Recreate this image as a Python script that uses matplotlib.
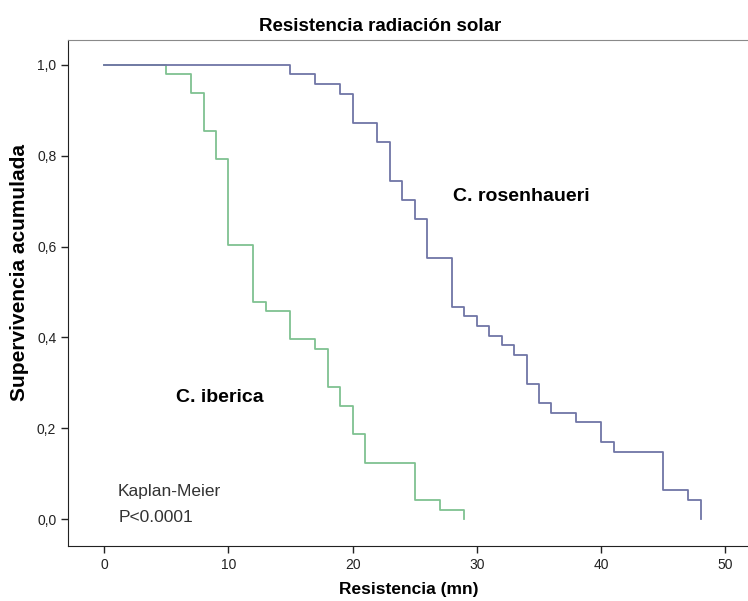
import numpy as np
import matplotlib
matplotlib.use("Agg")
import matplotlib.pyplot as plt
from matplotlib.ticker import FuncFormatter

plt.rcParams['font.family'] = ['Liberation Sans', 'DejaVu Sans']

# Kaplan-Meier steps
iberica_t = [0, 5, 7, 8, 9, 10, 12, 13, 15, 17, 18, 19, 20, 21, 25, 27, 29]
iberica_s = [1.0, 0.979, 0.937, 0.854, 0.792, 0.604, 0.479, 0.458, 0.396,
             0.375, 0.292, 0.25, 0.188, 0.125, 0.042, 0.021, 0.0]

rosen_t = [0, 15, 17, 19, 20, 22, 23, 24, 25, 26, 28, 29, 30, 31, 32, 33,
           34, 35, 36, 38, 40, 41, 45, 47, 48]
rosen_s = [1.0, 0.979, 0.957, 0.936, 0.872, 0.830, 0.745, 0.702, 0.660,
           0.574, 0.468, 0.447, 0.426, 0.404, 0.383, 0.362, 0.298, 0.255,
           0.234, 0.213, 0.170, 0.149, 0.064, 0.043, 0.0]

x_ticks = [0, 10, 20, 30, 40, 50]
y_ticks = [0.0, 0.2, 0.4, 0.6, 0.8, 1.0]

green = '#7fc291'
blue = '#7075a6'

fig = plt.figure(figsize=(7.48, 6.01), dpi=100)
ax = fig.add_axes([0.091, 0.092, 0.912, 0.842])

ax.step(iberica_t, iberica_s, where='post', color=green, lw=1.3)
ax.step(rosen_t, rosen_s, where='post', color=blue, lw=1.3)

ax.set_xlim(-2.9, 52.0)
ax.set_ylim(-0.058, 1.055)
ax.set_xticks(x_ticks)
ax.set_yticks(y_ticks)
ax.yaxis.set_major_formatter(FuncFormatter(lambda v, p: f"{v:.1f}".replace('.', ',')))
ax.tick_params(direction='out', length=5, width=1, labelsize=10, colors='#222222')

ax.spines['right'].set_visible(False)
ax.spines['top'].set_color('#8a8a8a')
ax.spines['left'].set_color('#222222')
ax.spines['bottom'].set_color('#222222')

ax.set_xlabel('Resistencia (mn)', fontsize=12.5, fontweight='bold')
ax.xaxis.set_label_coords(0.5, -0.072)
ax.set_ylabel('Supervivencia acumulada', fontsize=15, fontweight='bold')
ax.yaxis.set_label_coords(-0.058, 0.54)
fig.suptitle('Resistencia radiación solar', fontsize=13.5, fontweight='bold',
             x=0.508, y=0.97)

ax.text(28.1, 0.709, 'C. rosenhaueri', fontsize=14, fontweight='bold', va='center')
ax.text(5.8, 0.268, 'C. iberica', fontsize=14, fontweight='bold', va='center')
ax.text(1.05, 0.061, 'Kaplan-Meier', fontsize=12.5, va='center', color='#333333')
ax.text(1.2, 0.004, 'P<0.0001', fontsize=12.5, va='center', color='#333333')

fig.savefig('out.png', dpi=100)
